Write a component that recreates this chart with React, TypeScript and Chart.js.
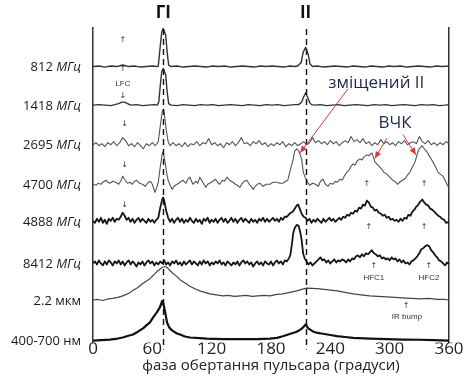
import React, { useEffect, useRef } from 'react';
import { Chart, registerables } from 'chart.js';

Chart.register(...registerables);

type Pt = [number, number];

// Phase (degrees) vs. relative intensity (above each trace's baseline)
const TRACE_812: Pt[] = [
  [0, 0], [6, 0.5], [12, -0.5], [18, 0.5], [24, 0], [28, 1], [30, 1.5], [32, 1], [36, 0], [42, 0.5], [48, -0.5],
  [54, 0], [60, 0.5], [64, 0], [66, 0.5], [68, 20], [69.5, 34], [71, 37.5], [73.5, 31], [75, 14], [76.5, 1.5],
  [79, 0], [85, 0.5], [91, -0.5], [97, 0], [103, 0.5], [109, 0], [115, -0.5], [121, 0.5], [127, 0], [133, 0.5],
  [139, -0.5], [145, 0], [151, 0.5], [157, 0], [163, -0.5], [169, 0.5], [175, 0], [181, 0.5], [187, 0], [193, -0.5],
  [199, 0.5], [204, 0], [207, 0.5], [210.5, 4], [212.5, 14], [215, 19], [217.5, 12.5], [219.5, 2.5], [222, 0],
  [227, 0.5], [233, -0.5], [239, 0], [245, 0.5], [251, 0], [257, -0.5], [263, 0.5], [269, 0], [275, -0.5], [281, 0.5],
  [287, 0], [293, -0.5], [299, 0.5], [305, 0], [311, 0.5], [317, -0.5], [323, 0], [329, 0.5], [335, 0], [341, -0.5],
  [347, 0.5], [353, 0], [360, 0.5],
];

const TRACE_1418: Pt[] = [
  [0, 0], [6, 0.5], [12, 0], [18, -0.5], [22, 0.5], [26, 1.5], [29, 3], [32, 3], [35, 1.5], [38, 0], [44, 0.5],
  [50, -0.5], [56, 0], [62, 0.5], [65, 0], [66.5, 3], [68, 19], [69.5, 33], [71, 36], [73.5, 30], [75, 13], [76.5, 1.5],
  [79, 0], [85, -0.5], [91, 0.5], [97, 0], [103, -0.5], [109, 0.5], [115, 0], [121, 0.5], [127, -0.5], [133, 0],
  [139, 0.5], [145, 0], [151, -0.5], [157, 0.5], [163, 0], [169, -0.5], [175, 0.5], [181, 0], [187, 0.5], [193, -0.5],
  [199, 0], [204, 0.5], [208, 0.5], [211, 3], [213, 8], [215, 12], [217, 8], [219, 2.5], [221, 0.5], [224, 0],
  [230, 0.5], [236, -0.5], [242, 0], [248, 0.5], [254, -0.5], [260, 0], [266, 0.5], [272, 0], [278, -0.5], [284, 0.5],
  [290, 0], [296, 0.5], [302, -0.5], [308, 0], [314, 0.5], [320, 0], [326, -0.5], [332, 0.5], [338, 0], [344, 0.5],
  [350, -0.5], [356, 0], [360, 0.5],
];

const TRACE_2695: Pt[] = [
  [0, 0], [3, 2], [6, -1], [9, 1], [12, -2], [15, 2], [18, 0], [21, 3], [24, -1], [27, 2], [30, 7], [33, 4], [36, -1],
  [39, 1], [42, -2], [45, 2], [48, -1], [51, -4], [54, 1], [57, -1], [60, 2], [63, -1], [66, 3], [68, 18], [70, 33],
  [71, 35], [72, 32], [74, 15], [76, 3], [78, -1], [81, 2], [84, -1], [87, 1], [90, -2], [93, 2], [96, -2], [99, 1],
  [102, 0], [105, 3], [108, -1], [111, 2], [114, 1], [117, 6], [120, 0], [123, 2], [126, -1], [129, 1], [132, -3],
  [135, 2], [138, 0], [141, 3], [144, -1], [147, 2], [150, 7], [153, 1], [156, 2], [159, -1], [162, 3], [165, 1],
  [168, 4], [171, 0], [174, 2], [177, -2], [180, 1], [183, -1], [186, 2], [189, 0], [192, 3], [195, -2], [198, 1],
  [201, -1], [204, 2], [207, -1], [210, 1], [213, 3], [216, 0], [219, 2], [222, 7], [225, 2], [228, 4], [231, 1],
  [234, 3], [237, 0], [240, 4], [243, 1], [246, 3], [249, -1], [252, 2], [255, 4], [258, 2], [261, 8], [264, 3],
  [267, 5], [270, 2], [273, 6], [276, 1], [279, 3], [282, -1], [285, 2], [288, 0], [291, 5], [294, 1], [297, 3],
  [300, 0], [303, 2], [306, -1], [309, 3], [312, 1], [315, 4], [318, 0], [321, 2], [324, 3], [327, 1], [330, 8],
  [333, 3], [336, 1], [339, 4], [342, 0], [345, 2], [348, -1], [351, 2], [354, 0], [357, 3], [360, 1],
];

const TRACE_4700: Pt[] = [
  [0, 0], [3, -1], [5, 1], [8, 0], [10, 2], [13, 4], [15, 2], [17, 1], [20, 3], [23, 2], [26, 0], [28, 3], [30, 8],
  [32, 5], [35, 1], [37, 2], [40, 0], [42, 3], [44, 4], [47, 1], [50, 0], [53, -2], [55, 1], [58, 3], [60, 0],
  [62.7, -8], [64.5, -3], [66, 2], [68, 17], [70, 30], [71, 32], [73, 21], [75, 8], [76, 4], [78, -1], [80, -5],
  [82, -2], [85, 0], [88, 2], [91, 4], [94, 1], [96, 5], [98, 7], [101, 0], [104, 3], [106, 1], [108, 7], [111, 2],
  [114, -3], [116, 0], [118, 1], [121, 3], [124, 5], [126, 2], [128, 0], [131, 4], [133, 3], [135.5, 7], [138, 4],
  [141.6, 2], [144, 0], [146, -1], [148.6, -3], [151, 1], [153, 3], [155.7, 4], [158, 0], [160, -2], [162, -5],
  [164, -2], [166, 0], [169, 1], [172, -2], [175, 0], [179, 0], [182, 2], [186, 2], [189, 1], [192, 1], [195, 3],
  [197, 4], [199, 12], [202.5, 25], [204, 33], [206, 35], [208, 33], [211, 25], [212.6, 12], [214.5, 7], [216, 4],
  [219, -1], [222, 1], [225, 0], [228, -2], [230, 3], [232.6, 5], [235, 0], [237.6, -2], [240, 1], [242.7, 0],
  [245, 3], [247, 2], [249.7, 5], [252, 4], [254, 8], [256.8, 12], [259, 14], [261, 18], [262.9, 20], [265, 19],
  [267, 23], [270, 25], [272, 24], [274, 27], [277, 29], [279, 28], [280, 29], [282, 31], [283.5, 27], [285, 22],
  [287, 20], [290, 17], [292, 15], [294, 12], [297, 10], [299, 8], [301, 6], [303, 4], [305, 3], [308, 0], [310, 2],
  [313, 4], [316, 6], [318, 9], [320.5, 12], [323, 17], [325.6, 22], [328.6, 32], [330, 35], [332.7, 38], [335, 35],
  [337.7, 32], [340, 28], [342, 25], [343.8, 22], [346, 18], [348.8, 12], [351, 10], [353.9, 8], [356, 4], [359, -2],
  [360, -2],
];

const TRACE_4888: Pt[] = [
  [0, 0], [2, -2], [4, 2], [6, -1], [8, 3], [10, -2], [12, 1], [14, -3], [16, 2], [18, 0], [20, 3], [22, -1], [24, 2],
  [26, 1], [28, 4], [30, 8], [32, 5], [34, 1], [36, 3], [38, -1], [40, 2], [42, -2], [44, 1], [46, 3], [48, -1],
  [50, 2], [52, 0], [54, -2], [56, 2], [58, -1], [60, 1], [62, -2], [64, 1], [66, 3], [68, 13], [70, 21], [71, 23],
  [72, 20], [74, 10], [76, 3], [78, -1], [80, 2], [82, -2], [84, 1], [86, 3], [88, -1], [90, 2], [92, -2], [94, 1],
  [96, -1], [98, 3], [100, 0], [102, -2], [104, 2], [106, -1], [108, 1], [110, -3], [112, 2], [114, 0], [116, 3],
  [118, -2], [120, 1], [122, -1], [124, 2], [126, -2], [128, 1], [130, 3], [132, -1], [134, 2], [136, -2], [138, 0],
  [140, 3], [142, -1], [144, 2], [146, -2], [148, 1], [150, 3], [152, -1], [154, 2], [156, 0], [158, -2], [160, 2],
  [162, -1], [164, 1], [166, -2], [168, 2], [170, 0], [172, 3], [174, -1], [176, 2], [178, -1], [180, 1], [182, 3],
  [184, 0], [186, 2], [188, -1], [190, 3], [192, 1], [194, 4], [196, 4], [198, 6], [200, 8], [202, 9], [204, 12],
  [206, 15], [207.5, 16], [209, 12], [211, 7], [213, 4], [215, 3], [217, 0], [219, 2], [221, -2], [223, 1], [225, -1],
  [227, 2], [229, 0], [231, -2], [233, 2], [235, -1], [237, 1], [239, 3], [241, 0], [243, 2], [245, -1], [247, 1],
  [249, 3], [251, 1], [253, 4], [255, 3], [257, 6], [259, 5], [261, 8], [263, 7], [265, 10], [267, 9], [269, 13],
  [271, 12], [273, 16], [275, 15], [277, 20], [279, 18], [281, 14], [283, 13], [285, 10], [287, 11], [289, 8],
  [291, 7], [293, 5], [295, 6], [297, 3], [299, 4], [301, 1], [303, 2], [305, 0], [307, 1], [309, -1], [311, 2],
  [313, 0], [315, 3], [317, 2], [319, 6], [321, 5], [323, 9], [325, 11], [327, 14], [329, 16], [331, 19], [333, 21],
  [335, 18], [337, 16], [339, 15], [341, 12], [343, 11], [345, 9], [347, 7], [349, 5], [351, 4], [353, 2], [355, 1],
  [357, -2], [360, -1],
];

const TRACE_8412: Pt[] = [
  [0, 0], [2, 2], [4, -1], [6, 3], [8, 0], [10, -2], [12, 2], [14, -1], [16, 3], [18, 1], [20, -2], [22, 2], [24, 0],
  [26, 3], [28, -1], [30, 2], [32, -2], [34, 1], [36, 3], [38, -1], [40, 2], [42, 0], [44, -3], [46, 1], [48, -1],
  [50, 2], [52, -2], [54, 1], [56, 3], [58, 0], [60, 2], [62, -2], [64, 1], [66, -1], [68, 2], [70, 0], [72, 3],
  [74, -1], [76, 1], [78, -2], [80, 2], [82, 0], [84, 3], [86, -1], [88, 1], [90, -2], [92, 2], [94, -1], [96, 1],
  [98, 3], [100, -1], [102, 2], [104, 0], [106, -2], [108, 2], [110, -1], [112, 3], [114, 0], [116, 2], [118, -2],
  [120, 1], [122, -1], [124, 2], [126, 0], [128, 3], [130, -1], [132, 1], [134, -2], [136, 2], [138, 0], [140, -2],
  [142, 1], [144, -1], [146, 2], [148, -2], [150, 1], [152, 3], [154, 0], [156, 2], [158, -1], [160, 1], [162, -3],
  [164, 0], [166, 2], [168, -1], [170, 1], [172, -2], [174, 2], [176, 0], [178, -1], [180, 2], [182, -2], [184, 1],
  [186, 3], [188, 0], [190, 2], [192, -1], [194, 3], [196, 2], [198, 5], [199.5, 8], [201, 18], [202.5, 30], [204, 35],
  [206, 38], [208, 37], [209.5, 31], [211, 23], [212.5, 10], [214, 5], [216, 2], [218, -1], [220, 1], [222, -2],
  [224, 0], [226, 2], [228, 4], [230, 6], [232, 3], [234, 4], [236, 1], [238, 3], [240, 0], [242, 2], [244, 4],
  [246, 1], [248, 3], [250, 2], [252, 4], [254, 3], [256, 1], [258, 4], [260, 2], [262, 5], [264, 4], [266, 7],
  [268, 8], [270, 6], [272, 9], [274, 7], [276, 10], [278, 9], [280, 11], [282, 13], [284, 10], [286, 9], [288, 7],
  [290, 8], [292, 5], [294, 6], [296, 4], [298, 5], [300, 3], [302, 6], [304, 4], [306, 5], [308, 2], [310, 4],
  [312, 1], [314, 3], [316, 0], [318, 1], [320, -1], [322, 2], [324, 3], [326, 5], [328, 7], [330, 10], [332, 14],
  [334, 15], [336, 17], [338, 18], [340, 17], [342, 13], [344, 11], [346, 8], [348, 6], [350, 3], [352, 2], [354, 0],
  [356, -2], [358, 1], [360, -1],
];

const TRACE_IR: Pt[] = [
  [0, 0], [5, 0.5], [10, -0.5], [15, 1], [20, 1.5], [25, 2.5], [30, 4], [35, 6], [40, 9], [45, 12], [50, 16],
  [57.6, 21], [64.7, 28], [69.8, 32], [72.8, 33], [75, 32], [77.9, 29], [81, 26], [84.9, 23], [88, 20], [91, 18],
  [95, 15.5], [98, 13.6], [103, 11], [108, 9], [113, 7.5], [118, 6], [125, 5], [131, 4], [137, 4.5], [143, 3.5],
  [149, 4], [155, 4.5], [161, 3.5], [167, 4], [173, 4.5], [179, 4], [186, 5.5], [192, 6], [199, 7.5], [206, 9],
  [211, 10.5], [216, 11.7], [222, 11.5], [229.5, 11], [238, 10], [246.7, 9], [255, 7.5], [263, 6], [271, 5],
  [280, 4], [288, 3.5], [297, 3], [305, 2.5], [313, 2], [322, 1.5], [331, 1], [340, 1.5], [348, 0.5], [355, 0.5],
  [360, 0],
];

const TRACE_OPT: Pt[] = [
  [0, 0], [8, 0.5], [17, 1], [25, 2], [30, 3], [35, 4.5], [40.4, 6], [45, 8.5], [50.6, 12], [54, 15], [57.6, 18],
  [61, 23], [64.7, 28], [67.7, 33], [70, 39], [71, 37], [72.8, 29], [74.8, 18], [77, 13], [79.9, 10], [84.9, 7],
  [88, 6], [93, 4], [98, 3], [108, 2.5], [115, 2], [131, 1.5], [148, 1.5], [166, 1.5], [179, 2], [186, 2.7],
  [192, 4.3], [199, 6.5], [206, 8.7], [210, 11], [212.3, 12.7], [215, 16], [217.7, 12], [222.4, 9], [227, 7.5],
  [232.6, 6.7], [240, 5.5], [246.7, 4.3], [255, 3.5], [262.9, 2.7], [280, 2], [297, 1.5], [313.4, 1], [330, 0.8],
  [345, 0.5], [360, 0],
];

const TRACES: Pt[][] = [TRACE_812, TRACE_1418, TRACE_2695, TRACE_4700, TRACE_4888, TRACE_8412, TRACE_IR, TRACE_OPT];
const TRACE_NAMES = ['812', '1418', '2695', '4700', '4888', '8412', '2.2 мкм', '400-700 нм'];
const TRACE_UNITS = ['МГц', 'МГц', 'МГц', 'МГц', 'МГц', 'МГц', '', ''];
const TRACE_OFFSETS = [272, 234, 195, 156, 120, 78, 42, 2];
const TRACE_COLORS = ['#333333', '#333333', '#555555', '#555555', '#161616', '#161616', '#444444', '#111111'];
const TRACE_WIDTHS = [1.4, 1.4, 1.1, 1.1, 1.8, 1.8, 1.2, 2.2];

const X_TICKS = [0, 60, 120, 180, 240, 300, 360];
const PULSE_PHASES = [71, 215];
const PULSE_NAMES = ['ГІ', 'ІІ'];

// small markers: [phase, level, text]
const SMALL_MARKS: [number, number, string][] = [
  [30.3, 298, '↑'], [30.3, 270, '↑'], [30.3, 255, 'LFC'], [30.3, 243, '↓'], [32, 215, '↓'], [32, 175, '↓'],
  [32, 136, '↓'], [277, 156, '↑'], [334.7, 156, '↑'], [279, 114, '↑'], [334.7, 114, '↑'], [284, 76, '↑'],
  [284, 64, 'HFC1'], [339.7, 76, '↑'], [339.7, 64, 'HFC2'], [316.5, 36, '↑'], [317.5, 25, 'IR bump'],
];
const NOTE_LABELS: [number, number, string][] = [
  [286.5, 256, 'зміщений ІІ'],
  [305.4, 216, 'ВЧК'],
];
const NOTE_ARROWS: [number, number, number, number][] = [
  [257.8, 250, 209.5, 187],
  [297, 201.3, 285, 181.3],
  [313.4, 205, 326.6, 185],
];

const overlay = {
  id: 'overlay',
  afterDatasetsDraw(chart: any) {
    const { ctx, chartArea, scales } = chart;
    const xs = scales.x;
    const ys = scales.y;
    ctx.save();

    // dashed pulse markers
    ctx.strokeStyle = '#111';
    ctx.lineWidth = 1.4;
    ctx.setLineDash([6, 4]);
    PULSE_PHASES.forEach((p) => {
      const x = Math.round(xs.getPixelForValue(p)) + 0.5;
      ctx.beginPath();
      ctx.moveTo(x, chartArea.top + 1);
      ctx.lineTo(x, chartArea.bottom + 7);
      ctx.stroke();
    });
    ctx.setLineDash([]);

    // pulse names
    ctx.fillStyle = '#111';
    ctx.font = 'bold 17px "Open Sans"';
    ctx.textAlign = 'center';
    ctx.textBaseline = 'middle';
    PULSE_NAMES.forEach((n, i) => ctx.fillText(n, xs.getPixelForValue(PULSE_PHASES[i]), chartArea.top - 15));

    // trace labels
    ctx.fillStyle = '#1a1a1a';
    ctx.textAlign = 'right';
    TRACE_NAMES.forEach((name, i) => {
      const y = ys.getPixelForValue(TRACE_OFFSETS[i]) + 1;
      const xr = chartArea.left - 12;
      if (TRACE_UNITS[i]) {
        ctx.font = 'italic 13px "Open Sans"';
        ctx.fillText(TRACE_UNITS[i], xr, y);
        const w = ctx.measureText(TRACE_UNITS[i]).width;
        ctx.font = '13px "Open Sans"';
        ctx.fillText(name + ' ', xr - w, y);
      } else {
        ctx.font = '13px "Open Sans"';
        ctx.fillText(name, xr, y);
      }
    });

    // small markers
    ctx.fillStyle = '#333';
    ctx.textAlign = 'center';
    SMALL_MARKS.forEach(([p, v, t]) => {
      ctx.font = t.length === 1 ? '8px "DejaVu Sans"' : '8px "Liberation Sans"';
      ctx.fillText(t, xs.getPixelForValue(p), ys.getPixelForValue(v));
    });

    // notes
    ctx.fillStyle = '#1f2a48';
    ctx.font = '17px "Open Sans"';
    NOTE_LABELS.forEach(([p, v, t]) => ctx.fillText(t, xs.getPixelForValue(p), ys.getPixelForValue(v)));

    ctx.strokeStyle = '#d33a3a';
    ctx.fillStyle = '#d33a3a';
    ctx.lineWidth = 1;
    NOTE_ARROWS.forEach(([p1, v1, p2, v2]) => {
      const x1 = xs.getPixelForValue(p1), y1 = ys.getPixelForValue(v1);
      const x2 = xs.getPixelForValue(p2), y2 = ys.getPixelForValue(v2);
      ctx.beginPath();
      ctx.moveTo(x1, y1);
      ctx.lineTo(x2, y2);
      ctx.stroke();
      const a = Math.atan2(y2 - y1, x2 - x1);
      const L = 7, W = 3;
      ctx.beginPath();
      ctx.moveTo(x2, y2);
      ctx.lineTo(x2 - L * Math.cos(a) + W * Math.sin(a), y2 - L * Math.sin(a) - W * Math.cos(a));
      ctx.lineTo(x2 - L * Math.cos(a) - W * Math.sin(a), y2 - L * Math.sin(a) + W * Math.cos(a));
      ctx.closePath();
      ctx.fill();
    });

    ctx.restore();
  },
};

export default function App() {
  const ref = useRef<HTMLCanvasElement>(null);

  useEffect(() => {
    document.body.style.margin = '0';
    const canvas = ref.current;
    if (!canvas) return;
    const datasets = TRACES.map((tr, i) => ({
      label: TRACE_NAMES[i],
      data: tr.map(([p, a]) => ({ x: p, y: TRACE_OFFSETS[i] + a })),
      borderColor: TRACE_COLORS[i],
      borderWidth: TRACE_WIDTHS[i],
      pointRadius: 0,
      fill: false,
      tension: 0,
      borderJoinStyle: 'round' as const,
      clip: false as any,
    }));
    const chart = new Chart(canvas, {
      type: 'line',
      data: { datasets },
      options: {
        animation: false,
        responsive: false,
        layout: { padding: { left: 93, right: 15, top: 28, bottom: 0 } },
        plugins: { legend: { display: false }, tooltip: { enabled: false } },
        scales: {
          x: {
            type: 'linear',
            min: 0,
            max: 360,
            afterBuildTicks: (scale: any) => {
              scale.ticks = X_TICKS.map((v) => ({ value: v }));
            },
            ticks: {
              color: '#222',
              font: { family: 'Open Sans', size: 17 },
              padding: -4,
              maxRotation: 0,
              autoSkip: false,
            },
            grid: { display: false, drawTicks: false },
            border: { display: false },
            title: {
              display: true,
              text: 'фаза обертання пульсара (градуси)',
              color: '#222',
              font: { family: 'Open Sans', size: 15 },
              padding: { top: 2, bottom: 4 },
            },
          },
          y: {
            min: 0,
            max: 310,
            ticks: { display: false },
            grid: { display: false, drawTicks: false },
            border: { display: true, color: '#333', width: 1.5 },
          },
          y2: {
            position: 'right',
            min: 0,
            max: 310,
            ticks: { display: false },
            grid: { display: false, drawTicks: false },
            border: { display: true, color: '#333', width: 1.5 },
          },
        },
      },
      plugins: [overlay],
    });
    return () => chart.destroy();
  }, []);

  return (
    <div style={{ width: 464, height: 379 }}>
      <canvas ref={ref} width={464} height={379} style={{ display: 'block' }} />
    </div>
  );
}
